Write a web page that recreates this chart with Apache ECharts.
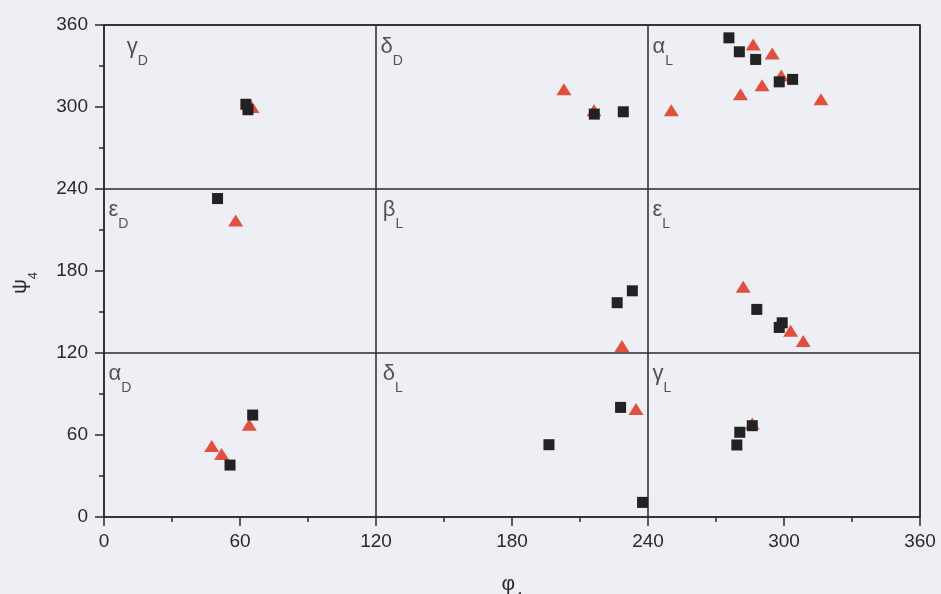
<!DOCTYPE html>
<html><head><meta charset="utf-8">
<script src="https://cdn.jsdelivr.net/npm/echarts@6/dist/echarts.min.js"></script>
<style>html,body{margin:0;padding:0;background:#eeeef5}#c{width:941px;height:594px}</style>
</head><body><div id="c"></div>
<script>
const xTicks = [0, 60, 120, 180, 240, 300, 360];
const yTicks = [0, 60, 120, 180, 240, 300, 360];
const squares = [
  [62.6, 302], [63.5, 298],
  [50.1, 233],
  [216.3, 294.8], [229.1, 296.5],
  [275.7, 350.6], [280.3, 340.4], [287.5, 334.8], [297.9, 318.4], [303.8, 320.2],
  [233.1, 165.5], [226.4, 156.8],
  [288.0, 151.9], [299.2, 142.1], [297.9, 138.7],
  [65.6, 74.6], [55.6, 38.0],
  [227.9, 80.2], [196.3, 52.9], [237.6, 10.7],
  [280.5, 62.0], [286.0, 66.8], [279.2, 52.7]
];
const triangles = [
  [65.3, 300],
  [58.1, 217],
  [202.9, 312.9], [216.2, 297.7],
  [286.4, 345.8], [294.8, 339.2], [298.8, 323.0], [290.3, 316.0], [280.8, 309.4], [316.3, 305.6], [250.3, 297.7],
  [282.0, 168.5], [302.9, 136.3], [308.5, 128.7], [228.5, 125.1],
  [64.1, 67.5], [47.5, 51.9], [51.9, 46.1],
  [234.7, 79.0],
  [286.0, 68.5]
];
const regionNames = [
  ['γ', 'D', 10, 340], ['δ', 'D', 122, 340], ['α', 'L', 242, 340],
  ['ε', 'D', 2, 221], ['β', 'L', 123, 221], ['ε', 'L', 242, 221],
  ['α', 'D', 2, 101], ['δ', 'L', 123, 101], ['γ', 'L', 242, 101]
];

const chart = echarts.init(document.getElementById('c'));
const font = 'Liberation Sans, Arial, sans-serif';
const axisCol = '#2a2a2a';
const txt = '#2a2a2a';
const nameRich = {a: {fontSize: 21, color: txt, fontFamily: font, verticalAlign: 'top', lineHeight: 30},
                  b: {fontSize: 13, color: txt, fontFamily: font, verticalAlign: 'bottom', lineHeight: 30}};
chart.setOption({
  backgroundColor: '#eeeef5',
  animation: false,
  grid: {left: 104, right: 21, top: 25, bottom: 77, outerBoundsMode: 'none', containLabel: false},
  xAxis: [{
    type: 'value', min: xTicks[0], max: xTicks[xTicks.length - 1], interval: 60,
    name: '{a|φ}{b|4}', nameLocation: 'middle', nameGap: 57,
    nameTextStyle: {rich: nameRich},
    axisLine: {show: true, lineStyle: {color: axisCol, width: 1.5}},
    axisTick: {show: true, inside: false, length: 9, lineStyle: {color: axisCol, width: 1.5}},
    minorTick: {show: true, splitNumber: 2, length: 5, lineStyle: {color: axisCol, width: 1.5}},
    axisLabel: {margin: 15, fontSize: 19, color: txt, fontFamily: font},
    splitLine: {show: false}
  }, {
    type: 'value', position: 'top', min: 0, max: 360, interval: 120,
    axisLine: {show: true, onZero: false, lineStyle: {color: axisCol, width: 1.5}},
    axisTick: {show: false}, axisLabel: {show: false},
    splitLine: {show: true, lineStyle: {color: axisCol, width: 1.5}}
  }],
  yAxis: [{
    type: 'value', min: yTicks[0], max: yTicks[yTicks.length - 1], interval: 60,
    name: '{a|ψ}{b|4}', nameLocation: 'middle', nameGap: 64, nameRotate: 90,
    nameTextStyle: {rich: nameRich, padding: [0, 24, 0, 0]},
    axisLine: {show: true, lineStyle: {color: axisCol, width: 1.5}},
    axisTick: {show: true, inside: false, length: 9, lineStyle: {color: axisCol, width: 1.5}},
    minorTick: {show: true, splitNumber: 2, length: 5, lineStyle: {color: axisCol, width: 1.5}},
    axisLabel: {margin: 16, fontSize: 19, color: txt, fontFamily: font},
    splitLine: {show: false}
  }, {
    type: 'value', position: 'right', min: 0, max: 360, interval: 120,
    axisLine: {show: true, onZero: false, lineStyle: {color: axisCol, width: 1.5}},
    axisTick: {show: false}, axisLabel: {show: false},
    splitLine: {show: true, lineStyle: {color: axisCol, width: 1.5}}
  }],
  series: [{
    type: 'scatter', data: regionNames.map(r => ({value: [r[2], r[3]], name: r[0] + '|' + r[1]})),
    symbolSize: 0, silent: true,
    label: {show: true, position: 'right', distance: 0,
      formatter: p => '{a|' + p.data.name.split('|')[0] + '}{b|' + p.data.name.split('|')[1] + '}',
      rich: {a: {fontSize: 22, color: txt, fontFamily: font, verticalAlign: 'top', lineHeight: 32},
             b: {fontSize: 14, color: txt, fontFamily: font, verticalAlign: 'bottom', lineHeight: 32}}}
  }, {
    type: 'scatter', data: triangles, symbol: 'triangle', symbolSize: [15, 12],
    itemStyle: {color: '#e05040', opacity: 1}
  }, {
    type: 'scatter', data: squares, symbol: 'rect', symbolSize: 11,
    itemStyle: {color: '#222', opacity: 1}
  }]
});
</script></body></html>
